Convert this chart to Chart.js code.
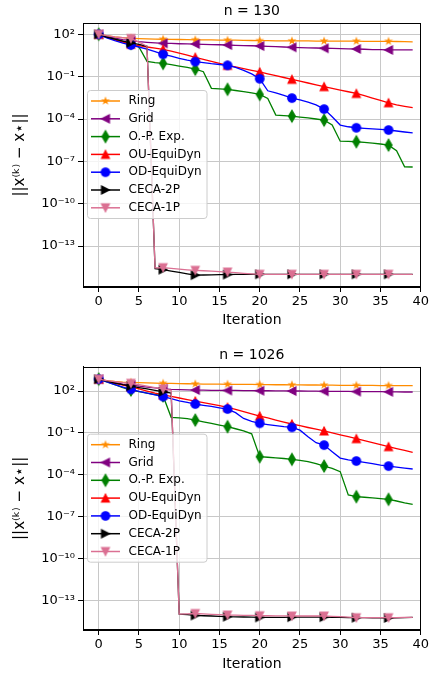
<!DOCTYPE html>
<html>
<head>
<meta charset="utf-8">
<script src="https://cdn.jsdelivr.net/npm/chart.js@4.4.0/dist/chart.umd.min.js"></script>
<style>
  html, body { margin: 0; padding: 0; background: #fff; }
  #wrap { position: relative; width: 431px; height: 677px; }
  canvas { position: absolute; left: 0; }
</style>
</head>
<body>
<div id="wrap">
  <canvas id="chart130" width="431" height="332" style="top:0"></canvas>
  <canvas id="chart1026" width="431" height="345" style="top:332px"></canvas>
</div>
<script>
// x values (iteration) and tick labels
const iterations = [0,1,2,3,4,5,6,7,8,9,10,11,12,13,14,15,16,17,18,19,20,21,22,23,24,25,26,27,28,29,30,31,32,33,34,35,36,37,38,39];
const xTicks = [0, 5, 10, 15, 20, 25, 30, 35, 40];
const yTickExps = [2, -1, -4, -7, -10, -13];
const methodNames = ["Ring", "Grid", "O.-P. Exp.", "OU-EquiDyn", "OD-EquiDyn", "CECA-2P", "CECA-1P"];

// log10 ||x(k) - x*||, n = 130
const ring130 = [2.0, 1.9, 1.82, 1.76, 1.72, 1.7, 1.68, 1.66, 1.65, 1.64, 1.63, 1.62, 1.61, 1.6, 1.6, 1.59, 1.58, 1.58, 1.57, 1.56, 1.55, 1.55, 1.54, 1.54, 1.53, 1.53, 1.53, 1.52, 1.52, 1.52, 1.51, 1.51, 1.51, 1.5, 1.5, 1.5, 1.5, 1.49, 1.48, 1.47];
const grid130 = [2.0, 1.85, 1.72, 1.62, 1.55, 1.48, 1.43, 1.39, 1.36, 1.35, 1.33, 1.32, 1.31, 1.29, 1.27, 1.26, 1.24, 1.22, 1.2, 1.19, 1.17, 1.15, 1.12, 1.1, 1.08, 1.06, 1.04, 1.03, 1.01, 1.0, 0.99, 0.97, 0.96, 0.94, 0.92, 0.91, 0.89, 0.89, 0.89, 0.89];
const opExp130 = [2.0, 1.8, 1.65, 1.5, 1.36, 1.1, 0.08, 0.0, -0.06, -0.15, -0.25, -0.35, -0.47, -0.65, -1.83, -1.86, -1.9, -1.98, -2.06, -2.15, -2.26, -2.55, -3.72, -3.76, -3.8, -3.86, -3.92, -4.0, -4.08, -4.42, -5.57, -5.59, -5.61, -5.66, -5.71, -5.77, -5.85, -6.25, -7.39, -7.4];
const ouEqui130 = [2.0, 1.78, 1.6, 1.44, 1.3, 1.2, 1.1, 1.02, 0.93, 0.8, 0.66, 0.52, 0.37, 0.23, 0.09, -0.06, -0.2, -0.31, -0.43, -0.55, -0.67, -0.8, -0.93, -1.06, -1.19, -1.32, -1.45, -1.58, -1.71, -1.83, -1.95, -2.07, -2.19, -2.35, -2.52, -2.68, -2.85, -3.0, -3.1, -3.2];
const odEqui130 = [2.0, 1.75, 1.55, 1.38, 1.24, 1.1, 0.95, 0.78, 0.58, 0.45, 0.3, 0.17, 0.06, 0.0, -0.08, -0.14, -0.2, -0.35, -0.55, -0.8, -1.15, -2.0, -2.15, -2.33, -2.52, -2.65, -2.8, -3.0, -3.3, -3.84, -4.43, -4.55, -4.62, -4.66, -4.7, -4.74, -4.78, -4.85, -4.92, -4.98];
const ceca2p130 = [2.0, 1.8, 1.65, 1.52, 1.4, 1.28, 1.15, -14.6, -14.67, -14.77, -14.87, -14.97, -15.06, -15.05, -15.04, -15.03, -15.02, -15.01, -15.0, -15.0, -15.0, -15.0, -15.0, -15.0, -15.0, -15.0, -15.0, -15.0, -15.0, -15.0, -15.0, -15.0, -15.0, -15.0, -15.0, -15.0, -15.0, -15.0, -15.0, -15.0];
const ceca1p130 = [2.0, 1.9, 1.82, 1.76, 1.7, 1.45, 1.15, -14.55, -14.53, -14.58, -14.63, -14.68, -14.72, -14.75, -14.78, -14.81, -14.84, -14.88, -14.93, -14.97, -15.0, -15.0, -15.0, -15.0, -15.0, -15.0, -15.0, -15.0, -15.0, -15.0, -15.0, -15.0, -15.0, -15.0, -15.0, -15.0, -15.0, -15.0, -15.0, -15.0];

// log10 ||x(k) - x*||, n = 1026
const ring1026 = [2.85, 2.75, 2.68, 2.64, 2.62, 2.6, 2.58, 2.56, 2.55, 2.54, 2.53, 2.52, 2.51, 2.5, 2.5, 2.49, 2.48, 2.48, 2.47, 2.47, 2.46, 2.46, 2.45, 2.45, 2.44, 2.44, 2.43, 2.43, 2.42, 2.42, 2.41, 2.41, 2.4, 2.4, 2.4, 2.39, 2.39, 2.39, 2.38, 2.38];
const grid1026 = [2.85, 2.7, 2.6, 2.5, 2.43, 2.35, 2.28, 2.22, 2.16, 2.12, 2.1, 2.08, 2.07, 2.06, 2.05, 2.05, 2.04, 2.04, 2.03, 2.03, 2.02, 2.02, 2.01, 2.01, 2.0, 2.0, 1.99, 1.99, 1.98, 1.98, 1.97, 1.97, 1.96, 1.96, 1.95, 1.95, 1.94, 1.94, 1.93, 1.93];
const opExp1026 = [2.85, 2.65, 2.45, 2.25, 2.07, 1.95, 1.85, 1.75, 1.65, 0.12, 0.08, 0.02, -0.08, -0.2, -0.32, -0.44, -0.55, -0.7, -0.86, -1.06, -2.7, -2.74, -2.78, -2.83, -2.89, -2.96, -3.05, -3.2, -3.37, -3.53, -3.77, -5.44, -5.56, -5.6, -5.65, -5.7, -5.75, -5.87, -6.0, -6.11];
const ouEqui1026 = [2.85, 2.7, 2.55, 2.42, 2.3, 2.15, 2.0, 1.85, 1.72, 1.62, 1.5, 1.39, 1.28, 1.17, 1.06, 0.95, 0.83, 0.68, 0.52, 0.36, 0.21, 0.07, -0.08, -0.22, -0.36, -0.48, -0.61, -0.73, -0.86, -1.0, -1.13, -1.27, -1.41, -1.55, -1.7, -1.84, -1.98, -2.12, -2.25, -2.39];
const odEqui1026 = [2.85, 2.65, 2.45, 2.28, 2.12, 1.98, 1.85, 1.72, 1.6, 1.45, 1.3, 1.18, 1.07, 0.98, 0.9, 0.8, 0.71, 0.45, 0.04, -0.17, -0.31, -0.4, -0.48, -0.55, -0.6, -0.8, -1.27, -1.7, -1.87, -2.34, -2.8, -2.93, -3.01, -3.1, -3.2, -3.3, -3.37, -3.45, -3.52, -3.58];
const ceca2p1026 = [2.85, 2.7, 2.57, 2.45, 2.35, 2.25, 2.15, 2.05, 1.95, 1.85, -13.96, -14.0, -14.06, -14.08, -14.1, -14.12, -14.15, -14.16, -14.17, -14.18, -14.2, -14.2, -14.19, -14.19, -14.18, -14.18, -14.18, -14.18, -14.18, -14.19, -14.2, -14.21, -14.22, -14.22, -14.23, -14.23, -14.24, -14.23, -14.22, -14.2];
const ceca1p1026 = [2.85, 2.75, 2.67, 2.6, 2.55, 2.45, 2.35, 2.25, 2.15, 2.05, -13.96, -13.94, -13.92, -13.95, -13.98, -14.0, -14.03, -14.04, -14.05, -14.06, -14.08, -14.08, -14.09, -14.09, -14.1, -14.1, -14.1, -14.1, -14.1, -14.12, -14.15, -14.18, -14.22, -14.22, -14.22, -14.22, -14.22, -14.21, -14.2, -14.2];

const colors = ["#ff8c00", "#800080", "#008000", "#ff0000", "#0000ff", "#000000", "#db7093"];
const shapes = ["star", "left", "thinDiamond", "up", "circle", "right", "down"];

Chart.defaults.font.family = "'DejaVu Sans', sans-serif";
Chart.defaults.color = "#000";

// marker images (matplotlib-like filled markers)
function makeMarker(shape, color) {
    const c = document.createElement("canvas");
    c.width = 18; c.height = 18;
    const g = c.getContext("2d");
    const s = 4.0;
    g.translate(9, 9);
    g.fillStyle = color;
    g.strokeStyle = color;
    g.lineWidth = 1.1;
    g.lineJoin = "miter";
    g.beginPath();
    if (shape === "circle") {
        g.arc(0, 0, 4.3, 0, Math.PI * 2);
    } else if (shape === "up") {
        g.moveTo(0, -s); g.lineTo(s, s); g.lineTo(-s, s);
    } else if (shape === "down") {
        g.moveTo(0, s); g.lineTo(s, -s); g.lineTo(-s, -s);
    } else if (shape === "left") {
        g.moveTo(-s, 0); g.lineTo(s, -s); g.lineTo(s, s);
    } else if (shape === "right") {
        g.moveTo(s, 0); g.lineTo(-s, -s); g.lineTo(-s, s);
    } else if (shape === "thinDiamond") {
        g.moveTo(0, -6.0); g.lineTo(3.5, 0); g.lineTo(0, 6.0); g.lineTo(-3.5, 0);
    } else if (shape === "star") {
        const R = 4.7, r = R * 0.382;
        for (let k = 0; k < 10; k++) {
            const rad = k % 2 === 0 ? R : r;
            const a = -Math.PI / 2 + k * Math.PI / 5;
            if (k === 0) g.moveTo(rad * Math.cos(a), rad * Math.sin(a));
            else g.lineTo(rad * Math.cos(a), rad * Math.sin(a));
        }
    }
    g.closePath();
    g.fill();
    if (shape !== "star") g.stroke();
    return c;
}
const markers = shapes.map((s, i) => makeMarker(s, colors[i]));

function sup(n) {
    const map = {"-": "\u207b", "0": "\u2070", "1": "\u00b9", "2": "\u00b2", "3": "\u00b3", "4": "\u2074", "5": "\u2075", "6": "\u2076", "7": "\u2077", "8": "\u2078", "9": "\u2079"};
    return String(n).split("").map(ch => map[ch]).join("");
}

// axes frame (top/right spines)
const framePlugin = {
    id: "frame",
    afterDatasetsDraw(chart) {
        const {ctx, chartArea: a} = chart;
        ctx.save();
        ctx.strokeStyle = "#000";
        ctx.lineWidth = 1;
        ctx.strokeRect(Math.round(a.left) + 0.5, Math.round(a.top) + 0.5, Math.round(a.right - a.left) - 1, Math.round(a.bottom - a.top) - 1);
        ctx.restore();
    }
};

// legend inside the axes, left middle
const legendPlugin = {
    id: "boxLegend",
    afterDraw(chart) {
        const {ctx, chartArea: a} = chart;
        const x0 = a.left + 4, y0 = a.top + 67, w = 119.5, h = 128, row = 17.8;
        ctx.save();
        ctx.beginPath();
        ctx.roundRect(x0 + 0.5, y0 + 0.5, w, h, 3);
        ctx.fillStyle = "rgba(255,255,255,0.8)";
        ctx.fill();
        ctx.strokeStyle = "#cccccc";
        ctx.lineWidth = 1;
        ctx.stroke();
        chart.data.datasets.forEach((ds, i) => {
            const yy = y0 + 11 + i * row;
            ctx.strokeStyle = ds.borderColor;
            ctx.lineWidth = 1.5;
            ctx.beginPath();
            ctx.moveTo(x0 + 4, yy);
            ctx.lineTo(x0 + 33, yy);
            ctx.stroke();
            const img = ds.pointStyle;
            ctx.drawImage(img, x0 + 18.5 - img.width / 2, yy - img.height / 2);
            ctx.fillStyle = "#000";
            ctx.font = "12px 'DejaVu Sans'";
            ctx.textBaseline = "middle";
            ctx.textAlign = "left";
            ctx.fillText(ds.label, x0 + 41.5, yy);
        });
        ctx.restore();
    }
};

function makeChart(id, title, series, yMinExp, yMaxExp, titlePad, xTitleBottom) {
    const datasets = series.map((vals, i) => ({
        label: methodNames[i],
        data: iterations.map((it, k) => ({x: it, y: Math.pow(10, vals[k])})),
        borderColor: colors[i],
        backgroundColor: colors[i],
        borderWidth: 1.3,
        pointStyle: markers[i],
        pointRadius: ctx => (ctx.dataIndex % 4 === 0 ? 5 : 0),
        tension: 0,
        order: series.length - i
    }));
    return new Chart(document.getElementById(id), {
        type: "line",
        data: {datasets: datasets},
        options: {
            responsive: false,
            animation: false,
            events: [],
            layout: {padding: {left: 0, right: 9, top: 0, bottom: 0}},
            plugins: {
                legend: {display: false},
                tooltip: {enabled: false},
                title: {
                    display: true,
                    text: title,
                    fullSize: false,
                    color: "#000",
                    font: {size: 14, weight: "normal"},
                    padding: titlePad
                }
            },
            scales: {
                x: {
                    type: "linear",
                    min: -1.95,
                    max: 40,
                    afterBuildTicks: s => { s.ticks = xTicks.map(v => ({value: v})); },
                    afterFit: s => { s.height = s.chart.height - (s.chart.height === 332 ? 287 : 298); },
                    ticks: {font: {size: 13}, color: "#000", padding: 2, maxRotation: 0},
                    grid: {color: "#c8c8c8", lineWidth: 1, tickColor: "#000", tickLength: 5, tickWidth: 1},
                    border: {color: "#000", width: 1},
                    title: {display: true, text: "Iteration", color: "#000", font: {size: 14}, padding: {top: 0, bottom: xTitleBottom}}
                },
                y: {
                    type: "logarithmic",
                    min: Math.pow(10, yMinExp),
                    max: Math.pow(10, yMaxExp),
                    afterBuildTicks: s => { s.ticks = yTickExps.map(e => ({value: Math.pow(10, e)})); },
                    afterFit: s => { s.width = 83; },
                    ticks: {
                        font: {size: 13},
                        color: "#000",
                        padding: 3,
                        callback: v => "10" + sup(Math.round(Math.log10(v)))
                    },
                    grid: {color: "#c8c8c8", lineWidth: 1, tickColor: "#000", tickLength: 5, tickWidth: 1},
                    border: {color: "#000", width: 1},
                    title: {display: true, text: "||x\u207d\u1d4f\u207e \u2212 x\u22c6||", color: "#000", font: {size: 15}, padding: {top: 11, bottom: 0}}
                }
            }
        },
        plugins: [framePlugin, legendPlugin]
    });
}

makeChart("chart130", "n = 130",
    [ring130, grid130, opExp130, ouEqui130, odEqui130, ceca2p130, ceca1p130],
    -15.9, 2.8, {top: 3, bottom: 3.2}, 3.6);
makeChart("chart1026", "n = 1026",
    [ring1026, grid1026, opExp1026, ouEqui1026, odEqui1026, ceca2p1026, ceca1p1026],
    -15.1, 3.74, {top: 14.6, bottom: 3.3}, 4.6);
</script>
</body>
</html>
